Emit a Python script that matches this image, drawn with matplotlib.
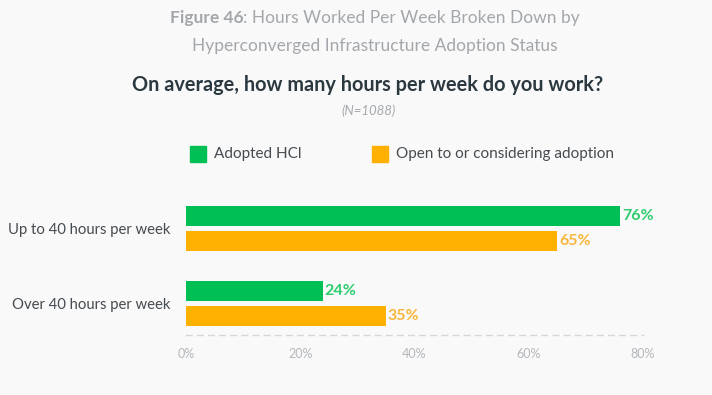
import matplotlib.pyplot as plt

categories = ["Up to 40 hours per week", "Over 40 hours per week"]
adopted = [76, 24]
considering = [65, 35]
series_names = ["Adopted HCl", "Open to or considering adoption"]
ticks = [0, 20, 40, 60, 80]
tick_labels = ["0%", "20%", "40%", "60%", "80%"]

GREEN = "#00bf55"
ORANGE = "#ffb000"
BG = "#f9f9f9"
FONT = "Lato"

fig = plt.figure(figsize=(7.12, 3.95), dpi=100, facecolor=BG)
ax = fig.add_axes([186 / 712, 1 - 335 / 395, 457 / 712, 135 / 395])
ax.set_facecolor(BG)

pos = range(len(categories))
h = 0.267
off = 0.167
ax.barh([p - off for p in pos], adopted, height=h, color=GREEN)
ax.barh([p + off for p in pos], considering, height=h, color=ORANGE)

for p, a, c in zip(pos, adopted, considering):
    ax.text(a + 0.3, p - off, f"{a}%", va="center", ha="left", color="#2fcc6e",
            fontsize=11.5, fontweight="bold", family=FONT)
    ax.text(c + 0.3, p + off, f"{c}%", va="center", ha="left", color="#f8b63a",
            fontsize=11.5, fontweight="bold", family=FONT)

ax.set_xlim(0, 80)
ax.set_ylim(1.42, -0.38)
ax.set_yticks(list(pos))
ax.set_yticklabels(categories, family=FONT, fontsize=10.7, color="#454b50")
ax.set_xticks(ticks)
ax.set_xticklabels(tick_labels, family=FONT, fontsize=9, color="#b4b8bc")
ax.tick_params(axis="both", length=0)
ax.tick_params(axis="y", pad=11)
ax.tick_params(axis="x", pad=9)
for s in ["top", "right", "left"]:
    ax.spines[s].set_visible(False)
ax.spines["bottom"].set_linestyle((0, (4, 4)))
ax.spines["bottom"].set_color("#d4d6d8")
ax.spines["bottom"].set_linewidth(1)

# title: bold "Figure 46" + normal rest, centred together
renderer = fig.canvas.get_renderer()
title_color = "#a3a7ab"
t1 = fig.text(0, 1 - 18 / 395, "Figure 46", fontsize=12.5, fontweight="bold",
              color=title_color, family=FONT, va="center")
t2 = fig.text(0, 1 - 18 / 395, ": Hours Worked Per Week Broken Down by", fontsize=12.5,
              color=title_color, family=FONT, va="center")
w1 = t1.get_window_extent(renderer).width / fig.bbox.width
w2 = t2.get_window_extent(renderer).width / fig.bbox.width
x0 = 375 / 712 - (w1 + w2) / 2
t1.set_x(x0)
t2.set_x(x0 + w1)
fig.text(375 / 712, 1 - 46 / 395, "Hyperconverged Infrastructure Adoption Status", fontsize=12.5,
         color=title_color, family=FONT, ha="center", va="center")

fig.text(368 / 712, 1 - 85 / 395, "On average, how many hours per week do you work?",
         fontsize=14.3, fontweight="bold", color="#2b3840", family=FONT, ha="center", va="center")
fig.text(369 / 712, 1 - 111 / 395, "(N=1088)", fontsize=9.5, style="italic",
         color="#a6aaae", family=FONT, ha="center", va="center")

# legend
for x, name, col in [(190, series_names[0], GREEN), (372, series_names[1], ORANGE)]:
    fig.patches.append(plt.Rectangle((x / 712, 1 - 162 / 395), 16 / 712, 16 / 395,
                                     transform=fig.transFigure, color=col))
    fig.text((x + 24) / 712, 1 - 154 / 395, name, fontsize=11, color="#454b50",
             family=FONT, va="center")

fig.savefig("out.png", dpi=100, facecolor=BG)
